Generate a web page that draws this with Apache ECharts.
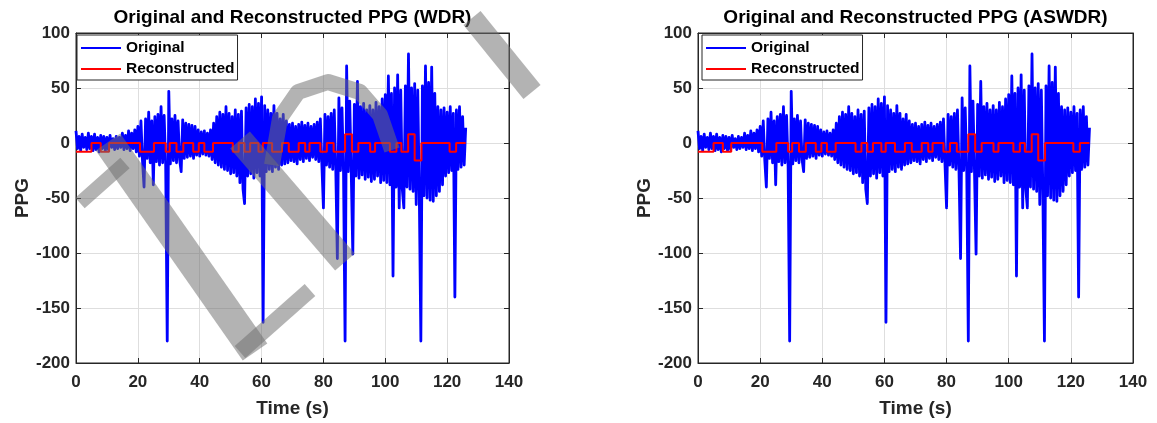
<!DOCTYPE html>
<html>
<head>
<meta charset="utf-8">
<script src="https://cdn.jsdelivr.net/npm/echarts@6/dist/echarts.min.js"></script>
<style>
  html, body { margin: 0; padding: 0; background: #ffffff; }
  #chart { width: 1157px; height: 423px; }
</style>
</head>
<body>
<div id="chart"></div>
<script>
// PPG recording, sampled every 0.5 s from t = 0 to t = 126 s
const sampleStep = 0.5;
const ppgOriginal = [
  11, -5, 6, -7, 8, -4, 5, -6, 9, -5, 6, -7, 8, -6, 5, -8, 7, -5, 6, -7,            // 0 - 9.5 s
  5, -6, 7, -4, 4, -6, 6, -5, 5, -4, 9, -6, 7, -5, 11, -7, 9, -5, 12, -8,           // 10 - 19.5 s
  15, -12, 20, -16, -40, 22, -14, 28, -18, 20, -38, 24, -17, 26, -20, 33, -18, 25, -21, -180, // 20 - 29.5 s
  47, -19, 22, -16, 25, -18, 20, -15, -26, 21, -14, 18, -13, 17, -12, 16, -14, 15, -11, 12,   // 30 - 39.5 s
  -12, 10, -10, 11, -11, 9, -12, 12, -15, 18, -18, 24, -20, 28, -22, 26, -24, 33, -25, 27,    // 40 - 49.5 s
  -28, 24, -27, 30, -30, 26, -36, 29, -42, -55, 32, -30, 35, -28, 33, -32, 40, -27, 36, -30,  // 50 - 59.5 s
  42, -163, 34, -26, 30, -24, 27, -26, 34, -22, 27, -24, 22, -20, 26, -19, 20, -18, 17, -16,  // 60 - 69.5 s
  18, -17, 15, -19, 17, -15, 19, -17, 16, -14, 18, -16, 15, -13, 17, -15, 19, -17, 22, -20,   // 70 - 79.5 s
  -59, 26, -20, 24, -22, 27, -24, 30, -25, -105, 41, -25, 32, -27, -180, 70, -26, 38, -28, -101, // 80 - 89.5 s
  35, -30, 56, -32, 33, -29, 36, -33, 30, -31, 34, -35, 30, -33, 37, -30, 33, -36, 40, -34,   // 90 - 99.5 s
  44, -36, 61, -38, 45, -121, 50, -40, 62, -59, 48, -42, -59, 52, -40, 81, -42, 50, -44, 54,  // 100 - 109.5 s
  -56, 48, -47, -180, 52, -48, 70, -50, 55, -52, 69, -53, 45, -48, 33, -44, 30, -38, 32, -30, // 110 - 119.5 s
  28, -27, 33, -25, 27, -140, 30, -24, 33, -22, 24, -20, 14                          // 120 - 126 s
];

// Reconstructed signal: piecewise-constant levels, each held from its start time to the next
const reconTimes  = [0, 5.0, 8.0, 10.7, 20.7, 25.2, 29.0, 30.3, 32.5, 34.7, 37.9, 39.7, 41.5, 44.3,
                     50.7, 52.6, 54.5, 56.3, 59.0, 60.4, 63.4, 66.6, 68.8, 72.0, 74.1, 75.5, 79.0,
                     81.1, 83.3, 87.0, 89.2, 91.3, 95.1, 96.7, 101.5, 103.6, 105.2, 107.4, 109.5,
                     111.7, 120.8, 122.9, 126.0];
const reconLevels = [-8, 0, -8, 0, -8, 0, -8, 0, -8, 0, -8, 0, -8, 0,
                     -8, 0, -8, 0, -8, 0, -8, 0, -8, 0, -8, 0, -8,
                     0, -8, 8, -8, 0, -8, 0, -8, 0, -8, 8, -16,
                     0, -8, 0, 0];

const panelTitles = ['Original and Reconstructed PPG (WDR)', 'Original and Reconstructed PPG (ASWDR)'];
const xTicks = { min: 0, max: 140, interval: 20 };
const yTicks = { min: -200, max: 100, interval: 50 };

const originalPoints = ppgOriginal.map((v, i) => [i * sampleStep, v]);
const reconPoints = reconTimes.map((t, i) => [t, reconLevels[i]]);

const FONT = '"Liberation Sans", Arial, Helvetica, sans-serif';
const AX = '#262626';
const GRIDC = '#dedede';

// plot boxes in page pixels
const panels = [
  { left: 76, top: 33, width: 433, height: 333 },
  { left: 698, top: 33, width: 435, height: 333 }
];

const grids = [], xAxes = [], yAxes = [], series = [], titles = [], legends = [];

panels.forEach((p, k) => {
  grids.push({ left: p.left, top: p.top, width: p.width, height: p.height,
               show: true, borderColor: AX, borderWidth: 1, backgroundColor: '#fff', containLabel: false });

  const tickStyle = { show: true, inside: true, length: 5, lineStyle: { color: AX, width: 1 } };

  xAxes.push({
    gridIndex: k, type: 'value', position: 'bottom',
    min: xTicks.min, max: xTicks.max, interval: xTicks.interval,
    axisLine: { show: true, onZero: false, lineStyle: { color: AX, width: 1 } },
    axisTick: tickStyle,
    axisLabel: { color: AX, fontWeight: 'bold', fontSize: 17, fontFamily: FONT, margin: 11 },
    splitLine: { show: true, lineStyle: { color: GRIDC, width: 1 } },
    name: 'Time (s)', nameLocation: 'middle', nameGap: 36,
    nameTextStyle: { color: AX, fontWeight: 'bold', fontSize: 19, fontFamily: FONT }
  });
  xAxes.push({
    gridIndex: k, type: 'value', position: 'top',
    min: xTicks.min, max: xTicks.max, interval: xTicks.interval,
    axisLine: { show: true, onZero: false, lineStyle: { color: AX, width: 1 } },
    axisTick: tickStyle, axisLabel: { show: false }, splitLine: { show: false }
  });

  yAxes.push({
    gridIndex: k, type: 'value', position: 'left',
    min: yTicks.min, max: yTicks.max, interval: yTicks.interval,
    axisLine: { show: true, onZero: false, lineStyle: { color: AX, width: 1 } },
    axisTick: tickStyle,
    axisLabel: { color: AX, fontWeight: 'bold', fontSize: 17, fontFamily: FONT, margin: 6 },
    splitLine: { show: true, lineStyle: { color: GRIDC, width: 1 } },
    name: 'PPG', nameLocation: 'middle', nameGap: 43, nameRotate: 90,
    nameTextStyle: { color: AX, fontWeight: 'bold', fontSize: 19, fontFamily: FONT }
  });
  yAxes.push({
    gridIndex: k, type: 'value', position: 'right',
    min: yTicks.min, max: yTicks.max, interval: yTicks.interval,
    axisLine: { show: true, onZero: false, lineStyle: { color: AX, width: 1 } },
    axisTick: tickStyle, axisLabel: { show: false }, splitLine: { show: false }
  });

  series.push({
    name: 'Original', type: 'line', xAxisIndex: 2 * k, yAxisIndex: 2 * k,
    data: originalPoints, showSymbol: false, symbol: 'none', sampling: null,
    lineStyle: { color: '#0000ff', width: 2.8, join: 'round' }, itemStyle: { color: '#0000ff' },
    z: 2, silent: true
  });
  series.push({
    name: 'Reconstructed', type: 'line', xAxisIndex: 2 * k, yAxisIndex: 2 * k,
    data: reconPoints, step: 'end', showSymbol: false, symbol: 'none',
    lineStyle: { color: '#ff0000', width: 2 }, itemStyle: { color: '#ff0000' },
    z: 3, silent: true
  });

  titles.push({
    text: panelTitles[k], left: p.left + p.width / 2, top: 8, textAlign: 'center', padding: 0,
    textStyle: { color: '#000', fontWeight: 'bold', fontSize: 19, fontFamily: FONT }
  });

  legends.push({
    orient: 'vertical', left: p.left + (k === 0 ? 1 : 4), top: 35,
    data: ['Original', 'Reconstructed'], icon: 'rect', itemWidth: 40, itemHeight: 2,
    itemGap: 5, padding: [5, 3, 3, 4], selectedMode: false,
    backgroundColor: '#ffffff', borderColor: AX, borderWidth: 1, borderRadius: 0,
    textStyle: { color: '#000', fontWeight: 'bold', fontSize: 15.5, fontFamily: FONT, lineHeight: 16 },
    z: 10
  });
});

// semi-transparent grey watermark strokes over the left panel
const markFill = 'rgba(112,112,112,0.53)';
const strokes = [
  { pts: [[80, 203], [125, 163]], w: 14 },
  { pts: [[108, 142], [255, 352]], w: 30 },
  { pts: [[240, 352], [310, 290]], w: 16 },
  { pts: [[240, 140], [345, 262]], w: 26 },
  { pts: [[272, 165], [280, 118], [298, 92], [328, 82], [360, 92], [380, 115], [392, 150]], w: 16 },
  { pts: [[472, 18], [532, 92]], w: 22 }
];
const graphics = strokes.map(s => ({
  type: 'polyline', silent: true, z: 100,
  shape: { points: s.pts },
  style: { stroke: markFill, fill: null, lineWidth: s.w, lineCap: 'butt', lineJoin: 'round' }
}));

const chart = echarts.init(document.getElementById('chart'), null, { renderer: 'canvas' });
chart.setOption({
  animation: false,
  backgroundColor: '#ffffff',
  title: titles,
  legend: legends,
  grid: grids,
  xAxis: xAxes,
  yAxis: yAxes,
  series: series,
  graphic: graphics
});
</script>
</body>
</html>
